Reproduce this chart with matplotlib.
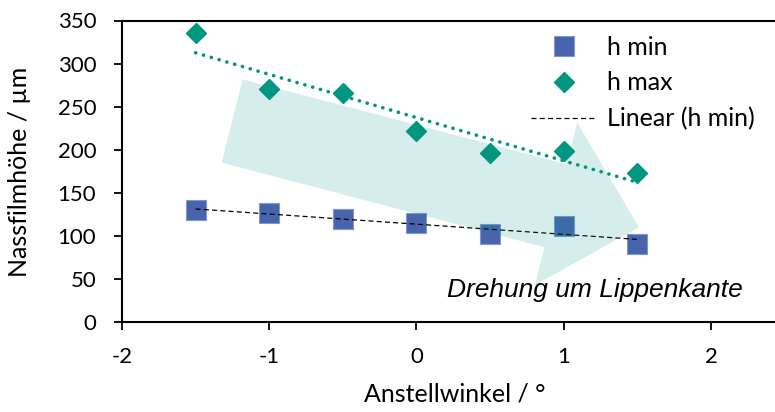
import matplotlib
matplotlib.use("Agg")
import matplotlib.pyplot as plt
from matplotlib.patches import Polygon
import numpy as np

# Messwerte
winkel = [-1.5, -1.0, -0.5, 0.0, 0.5, 1.0, 1.5]
h_min = [130, 126, 120, 115, 102, 111, 91]
h_max = [335, 271, 266, 222, 196, 198, 173]

x_ticks = [-2, -1, 0, 1, 2]
y_ticks = [0, 50, 100, 150, 200, 250, 300, 350]

blau = '#4764ad'
gruen = '#00967f'

plt.rcParams['font.family'] = ['Lato', 'DejaVu Sans']
plt.rcParams['axes.unicode_minus'] = False

fig = plt.figure(figsize=(7.75, 4.12), dpi=100)
ax = fig.add_axes([122/775, 90/412, 653/775, 301.5/412])

def px2ax(px, py):
    # Pixel im Bild -> Achsenanteil
    return (px - 122) / 653, (322 - py) / 301.5

# Trendlinien (lineare Regression)
xs = np.array([winkel[0], winkel[-1]])
p_max = np.polyfit(winkel, h_max, 1)
p_min = np.polyfit(winkel, h_min, 1)
ax.plot(xs, np.polyval(p_max, xs), color=gruen, lw=2.6, linestyle=(0, (0.05, 2.2)),
        dash_capstyle='round', zorder=2)

ax.plot(winkel, h_min, 's', color=blau, ms=14.4, mec='#8197cf', mew=0.8, label='h min', zorder=3)
ax.plot(winkel, h_max, 'D', color=gruen, ms=9.7, mec=gruen, label='h max', zorder=3)
ax.plot(xs, np.polyval(p_min, xs), color='black', lw=0.9, linestyle=(0, (4, 2.6)),
        label='Linear (h min)', zorder=4)

# Pfeil "Drehung um Lippenkante"
pfeil_px = [(242.7, 79.3), (566.5, 164.3), (577.3, 122.7), (639, 227.3),
            (535, 285), (544.5, 247.3), (221.7, 162.7)]
pfeil = [px2ax(px, py) for px, py in pfeil_px]
ax.add_patch(Polygon(pfeil, closed=True, transform=ax.transAxes,
                     facecolor='#009b84', alpha=0.16, edgecolor='none', zorder=5))
tx, ty = px2ax(447, 297)
ax.text(tx, ty, 'Drehung um Lippenkante', transform=ax.transAxes,
        ha='left', va='baseline', fontsize=19, style='italic',
        family='Liberation Sans', zorder=6)

ax.set_xlim(-2, 2 + 64 / 147.25)
ax.set_ylim(0, 350)
ax.set_xticks(x_ticks)
ax.set_yticks(y_ticks)
ax.tick_params(labelsize=16, width=1.3, length=6, direction='out')
ax.tick_params(axis='y', pad=12.5)
ax.tick_params(axis='x', pad=12)
ax.spines['right'].set_visible(False)
for s in ['left', 'bottom', 'top']:
    ax.spines[s].set_linewidth(1.5)

ax.set_xlabel('Anstellwinkel / °', fontsize=18)
ax.set_ylabel('Nassfilmhöhe / µm', fontsize=18)
ax.xaxis.set_label_coords(*px2ax(455, 382))
ax.yaxis.set_label_coords(*px2ax(31, 172))

lx, ly = px2ax(531, 36)
ax.legend(loc='upper left', bbox_to_anchor=(lx, ly), frameon=False, fontsize=18,
          handlelength=2.64, labelspacing=0.5, handletextpad=0.4,
          borderpad=0, borderaxespad=0, numpoints=1)

fig.savefig('out.png', dpi=100)
